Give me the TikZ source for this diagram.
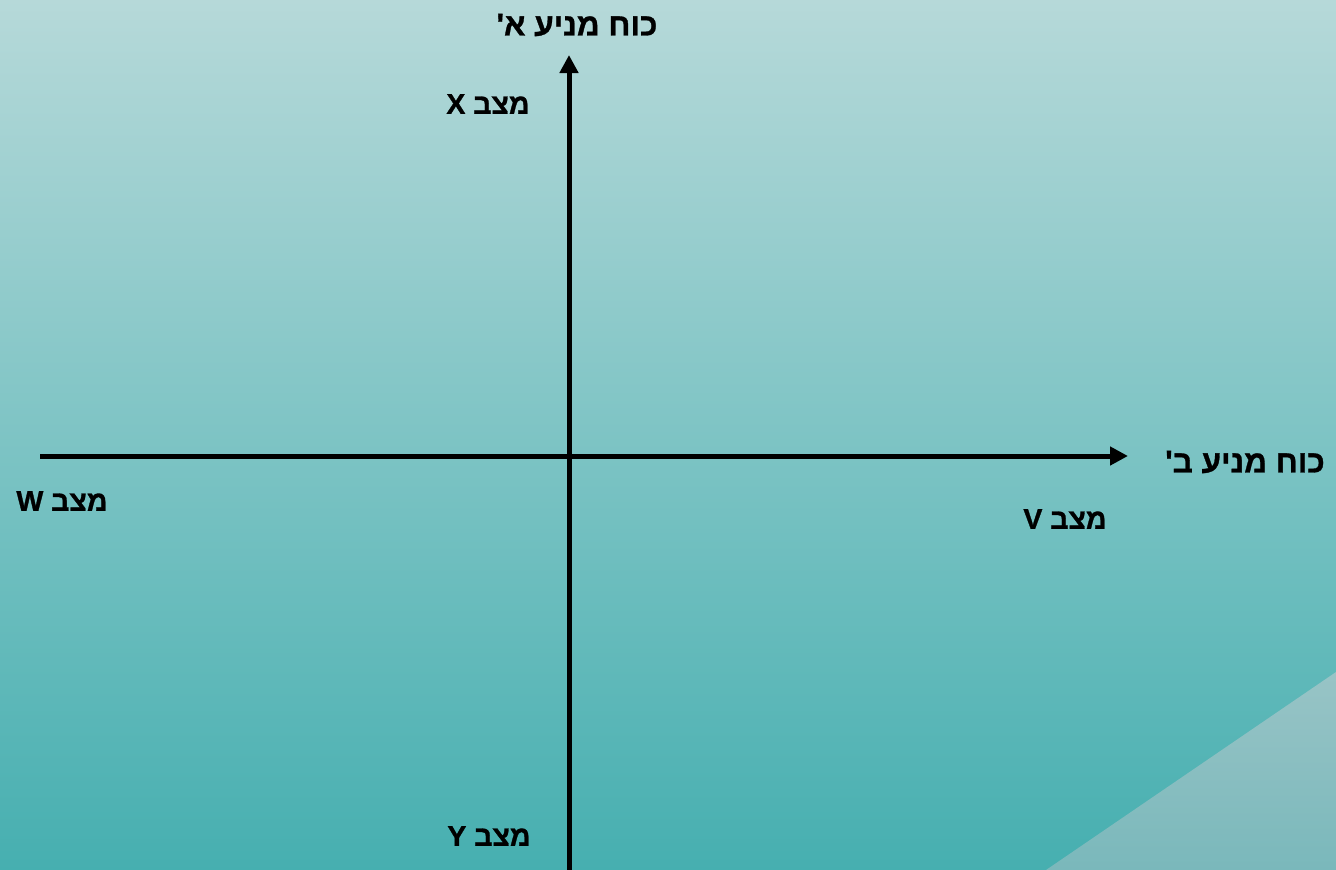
\documentclass[tikz,border=0pt]{standalone}
\usepackage{fontspec}
\usetikzlibrary{arrows.meta}
\newfontfamily\heb[Script=Hebrew,UprightFont={* Bold},BoldFont={* Bold},FakeBold=1.0]{Liberation Sans}
\TeXXeTstate=1
\begin{document}
\begin{tikzpicture}[x=1pt,y=-1pt,
  axis/.style={line width=5pt,-{Triangle[length=18pt,width=18pt]}},
  lbl/.style={font=\heb\fontsize{28.5}{32}\selectfont,inner sep=0pt},
  ttl/.style={font=\heb\fontsize{31.5}{36}\selectfont,inner sep=0pt}]
\useasboundingbox (0,0) rectangle (1336,870);
\shade[top color={rgb,255:red,182;green,217;blue,217}, bottom color={rgb,255:red,70;green,175;blue,176}] (0,0) rectangle (1336,870);
\shade[top color={rgb,255:red,152;green,196;blue,198}, bottom color={rgb,255:red,122;green,184;blue,187}] (1336,672) -- (1046,870) -- (1336,870) -- cycle;
\coordinate (vb) at (569,870);
\coordinate (vt) at (569,55);
\coordinate (hl) at (40,456);
\coordinate (hr) at (1128,456);
\draw[axis] (vb) -- (vt);
\draw[axis] (hl) -- (hr);
\node[ttl] (ta) at (577,25) {\beginR כוח מניע א'\endR};
\node[ttl] (tb) at (1245,462) {\beginR כוח מניע ב'\endR};
\node[lbl] (x) at (488,104) {\beginR מצב X\endR};
\node[lbl] (w) at (62,501) {\beginR מצב W\endR};
\node[lbl] (v) at (1065,519) {\beginR מצב V\endR};
\node[lbl] (y) at (489,836) {\beginR מצב Y\endR};
\end{tikzpicture}
\end{document}
